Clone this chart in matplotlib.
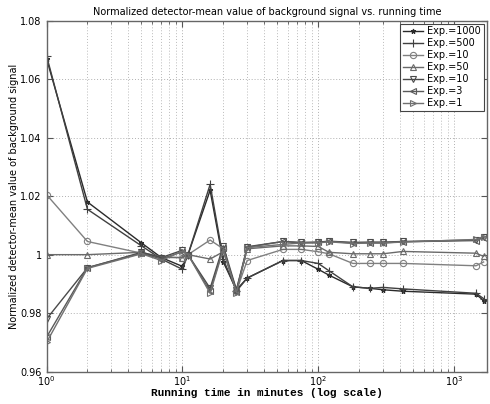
import matplotlib.pyplot as plt
from matplotlib.ticker import LogLocator, FixedLocator, NullFormatter

# running time in minutes
times = [1, 2, 5, 7, 10, 11, 16, 20, 25, 30, 55, 75, 100, 120, 180, 240,
         300, 420, 1450, 1650]

exp1000 = [1.067, 1.018, 1.004, 0.999, 0.996, 1.000, 1.022, 0.9975, 0.988,
           0.992, 0.998, 0.998, 0.995, 0.993, 0.989, 0.9885, 0.988, 0.9875,
           0.9865, 0.9843]
exp500 = [1.068, 1.0155, 1.003, 0.9985, 0.995, 1.000, 1.024, 0.9985, 0.9875,
          0.992, 0.998, 0.998, 0.997, 0.9945, 0.989, 0.9885, 0.9888, 0.9883,
          0.9868, 0.985]
exp10a = [1.0205, 1.0045, 1.0005, 0.999, 0.999, 1.000, 1.005, 1.002, 0.9875,
          0.998, 1.0018, 1.0018, 1.001, 1.0003, 0.997, 0.997, 0.997, 0.997,
          0.9962, 0.9975]
exp50 = [1.000, 1.000, 1.0008, 0.9992, 0.999, 1.000, 0.9985, 1.001, 0.988,
         1.002, 1.003, 1.003, 1.0028, 1.0008, 1.0003, 1.0003, 1.0003, 1.0011,
         1.0005, 0.9994]
exp10b = [0.978, 0.9955, 1.0008, 0.999, 1.0015, 1.000, 0.9885, 1.003, 0.988,
          1.0027, 1.0045, 1.0042, 1.0043, 1.0046, 1.0042, 1.0043, 1.0043,
          1.0045, 1.005, 1.006]
exp3 = [0.9718, 0.9956, 1.0005, 0.9985, 1.001, 1.000, 0.9875, 1.0022, 0.9872,
        1.0025, 1.0045, 1.004, 1.0042, 1.0045, 1.004, 1.004, 1.004, 1.0044,
        1.0048, 1.0058]
exp1 = [0.970, 0.9953, 1.0003, 0.998, 1.0012, 1.000, 0.9868, 1.0018, 0.987,
        1.0024, 1.0035, 1.004, 1.004, 1.0044, 1.0038, 1.004, 1.004, 1.0043,
        1.0052, 1.0062]

labels = ["Exp.=1000", "Exp.=500", "Exp.=10", "Exp.=50", "Exp.=10",
          "Exp.=3", "Exp.=1"]
series = [exp1000, exp500, exp10a, exp50, exp10b, exp3, exp1]
markers = ["*", "+", "o", "^", "v", "<", ">"]
colors = ["#2a2a2a", "#404040", "#808080", "#6a6a6a", "#4a4a4a",
          "#5a5a5a", "#707070"]
msizes = [3.5, 5.5, 4.5, 4, 4, 4, 4]

fig = plt.figure(figsize=(4.9, 4.04), dpi=100)
ax = fig.add_axes([0.095, 0.080, 0.899, 0.869])

for ys, m, c, ms, lab in zip(series, markers, colors, msizes, labels):
    ax.plot(times, ys, marker=m, color=c, markersize=ms, linewidth=1.0,
            markerfacecolor="none", markeredgewidth=0.8, label=lab)

ax.set_xscale("log")
ax.set_xlim(1, 1750)
ax.set_ylim(0.96, 1.08)
ax.yaxis.set_major_locator(FixedLocator([0.96, 0.98, 1.0, 1.02, 1.04,
                                         1.06, 1.08]))
ax.set_yticklabels(["0.96", "0.98", "1", "1.02", "1.04", "1.06", "1.08"])
ax.xaxis.set_major_locator(LogLocator(base=10))
ax.xaxis.set_minor_locator(LogLocator(base=10, subs=range(2, 10)))
ax.xaxis.set_minor_formatter(NullFormatter())

ax.grid(True, which="major", axis="both", linestyle=(0, (1, 2)),
        color="#b0b0b0", linewidth=0.7)
ax.grid(True, which="minor", axis="x", linestyle=(0, (1, 2)),
        color="#bbbbbb", linewidth=0.7)
ax.tick_params(which="both", direction="in", top=True, right=True,
               labelsize=7, color="#555555")
ax.tick_params(which="major", length=4)
ax.tick_params(which="minor", length=2)
ax.tick_params(axis="x", pad=2)
for sp in ax.spines.values():
    sp.set_color("#666666")
    sp.set_linewidth(1.0)

ax.set_title("Normalized detector-mean value of background signal vs. "
             "running time", fontsize=7, pad=4)
ax.set_xlabel("Running time in minutes (log scale)", fontsize=8,
              family="Liberation Mono", fontweight="bold", labelpad=0)
ax.set_ylabel("Normalized detector-mean value of background signal",
              fontsize=7, labelpad=1)

leg = ax.legend(loc="upper right", fontsize=7, handlelength=2.0,
                borderaxespad=0.3, labelspacing=0.2, fancybox=False,
                framealpha=1, borderpad=0.3, handletextpad=0.5)
leg.get_frame().set_edgecolor("#444444")
leg.get_frame().set_linewidth(0.8)

fig.savefig("out.png", dpi=100)
